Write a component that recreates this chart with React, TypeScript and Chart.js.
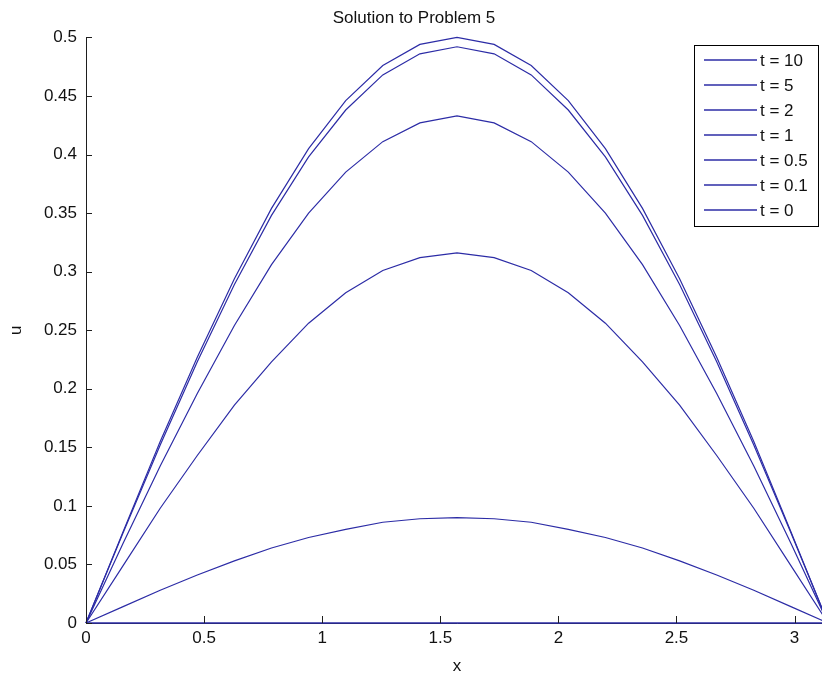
import React, { useEffect, useRef } from "react";
import { Chart, registerables } from "chart.js";

Chart.register(...registerables);

const xValues = [0, 0.1571, 0.3142, 0.4712, 0.6283, 0.7854, 0.9425, 1.0996, 1.2566, 1.4137, 1.5708, 1.7279, 1.885, 2.042, 2.1991, 2.3562, 2.5133, 2.6704, 2.8274, 2.9845, 3.1416];

const seriesLabels = ["t = 10", "t = 5", "t = 2", "t = 1", "t = 0.5", "t = 0.1", "t = 0"];

const uT10 = [0, 0, 0, 0, 0, 0, 0, 0, 0, 0, 0, 0, 0, 0, 0, 0, 0, 0, 0, 0, 0];
const uT5 = [0, 0, 0, 0, 0, 0, 0, 0, 0, 0, 0, 0, 0, 0, 0, 0, 0, 0, 0, 0, 0];
const uT2 = [0, 0.014, 0.028, 0.041, 0.053, 0.064, 0.073, 0.08, 0.086, 0.089, 0.09, 0.089, 0.086, 0.08, 0.073, 0.064, 0.053, 0.041, 0.028, 0.014, 0];
const uT1 = [0, 0.049, 0.098, 0.143, 0.186, 0.223, 0.256, 0.282, 0.301, 0.312, 0.316, 0.312, 0.301, 0.282, 0.256, 0.223, 0.186, 0.143, 0.098, 0.049, 0];
const uT05 = [0, 0.068, 0.134, 0.196, 0.254, 0.306, 0.35, 0.385, 0.411, 0.427, 0.433, 0.427, 0.411, 0.385, 0.35, 0.306, 0.254, 0.196, 0.134, 0.068, 0];
const uT01 = [0, 0.077, 0.152, 0.223, 0.289, 0.348, 0.398, 0.438, 0.468, 0.486, 0.492, 0.486, 0.468, 0.438, 0.398, 0.348, 0.289, 0.223, 0.152, 0.077, 0];
const uT0 = [0, 0.078, 0.155, 0.227, 0.294, 0.354, 0.405, 0.446, 0.476, 0.494, 0.5, 0.494, 0.476, 0.446, 0.405, 0.354, 0.294, 0.227, 0.155, 0.078, 0];

const seriesValues = [uT10, uT5, uT2, uT1, uT05, uT01, uT0];

const LINE_COLOR = "#2c2ca6";
const AXIS_COLOR = "#1e1e1e";
const FONT = "'Liberation Sans', Arial, sans-serif";

const fmt = (v: any) => String(Number(Number(v).toFixed(4)));

const inwardTicks = {
  id: "inwardTicks",
  afterDraw(chart: any) {
    const { ctx, chartArea } = chart;
    const xs = chart.scales.x;
    const ys = chart.scales.y;
    ctx.save();
    ctx.strokeStyle = AXIS_COLOR;
    ctx.lineWidth = 1;
    ctx.beginPath();
    xs.ticks.forEach((t: any) => {
      const px = Math.round(xs.getPixelForValue(t.value)) + 0.5;
      ctx.moveTo(px, chartArea.bottom);
      ctx.lineTo(px, chartArea.bottom - 7);
    });
    ys.ticks.forEach((t: any) => {
      const py = Math.round(ys.getPixelForValue(t.value)) + 0.5;
      ctx.moveTo(chartArea.left, py);
      ctx.lineTo(chartArea.left + 6, py);
    });
    ctx.stroke();

    // legend box
    const boxLeft = 694.5;
    const boxTop = 45.5;
    const boxW = 124;
    const boxH = 181;
    ctx.fillStyle = "#ffffff";
    ctx.fillRect(boxLeft, boxTop, boxW, boxH);
    ctx.strokeStyle = "#000000";
    ctx.lineWidth = 1;
    ctx.strokeRect(boxLeft, boxTop, boxW, boxH);
    ctx.font = `17px ${FONT}`;
    ctx.textBaseline = "middle";
    ctx.textAlign = "left";
    chart.data.datasets.forEach((ds: any, i: number) => {
      const y = 60 + i * 25;
      ctx.strokeStyle = ds.borderColor;
      ctx.lineWidth = 1.3;
      ctx.beginPath();
      ctx.moveTo(704, y);
      ctx.lineTo(757, y);
      ctx.stroke();
      ctx.fillStyle = "#111111";
      ctx.fillText(ds.label, 760, y + 1);
    });
    ctx.restore();
  },
};

export default function App() {
  const ref = useRef<HTMLCanvasElement | null>(null);

  useEffect(() => {
    if (!ref.current) return;
    const datasets = seriesLabels.map((label, i) => ({
      label,
      data: xValues.map((x, j) => ({ x, y: seriesValues[i][j] })),
      borderColor: LINE_COLOR,
      backgroundColor: LINE_COLOR,
      borderWidth: 1.2,
      pointRadius: 0,
      tension: 0,
      fill: false,
      clip: 4,
    }));
    const chart = new Chart(ref.current, {
      type: "line",
      data: { datasets },
      options: {
        responsive: false,
        animation: false,
        layout: { padding: { top: 0, right: 12, left: 0, bottom: 0 } },
        plugins: {
          legend: { display: false },
          tooltip: { enabled: false },
          title: {
            display: true,
            text: "Solution to Problem 5",
            color: "#111111",
            font: { family: FONT, size: 17, weight: "normal" },
            padding: { top: 8, bottom: 9 },
          },
        },
        scales: {
          x: {
            type: "linear",
            min: 0,
            max: 3.1416,
            grid: { display: false, drawTicks: false },
            border: { display: true, color: AXIS_COLOR, width: 1 },
            ticks: {
              stepSize: 0.5,
              includeBounds: false,
              color: "#111111",
              font: { family: FONT, size: 17 },
              padding: 5,
              maxRotation: 0,
              callback: fmt,
            },
            title: {
              display: true,
              text: "x",
              color: "#111111",
              font: { family: FONT, size: 17 },
              padding: { top: 4, bottom: 0 },
            },
            afterFit(scale: any) {
              scale.height = 54;
            },
          },
          y: {
            type: "linear",
            min: 0,
            max: 0.5,
            grid: { display: false, drawTicks: false },
            border: { display: true, color: AXIS_COLOR, width: 1 },
            ticks: {
              stepSize: 0.05,
              color: "#111111",
              font: { family: FONT, size: 17 },
              padding: 9,
              callback: fmt,
            },
            title: {
              display: true,
              text: "u",
              color: "#111111",
              font: { family: FONT, size: 17 },
              padding: { top: 6, bottom: 0 },
            },
            afterFit(scale: any) {
              scale.width = 86;
            },
          },
        },
      },
      plugins: [inwardTicks],
    });
    return () => chart.destroy();
  }, []);

  return (
    <div style={{ position: "fixed", left: 0, top: 0, width: 822, height: 677, overflow: "hidden", background: "#fff" }}>
      <canvas ref={ref} width={840} height={677} style={{ width: 840, height: 677, display: "block" }} />
    </div>
  );
}
